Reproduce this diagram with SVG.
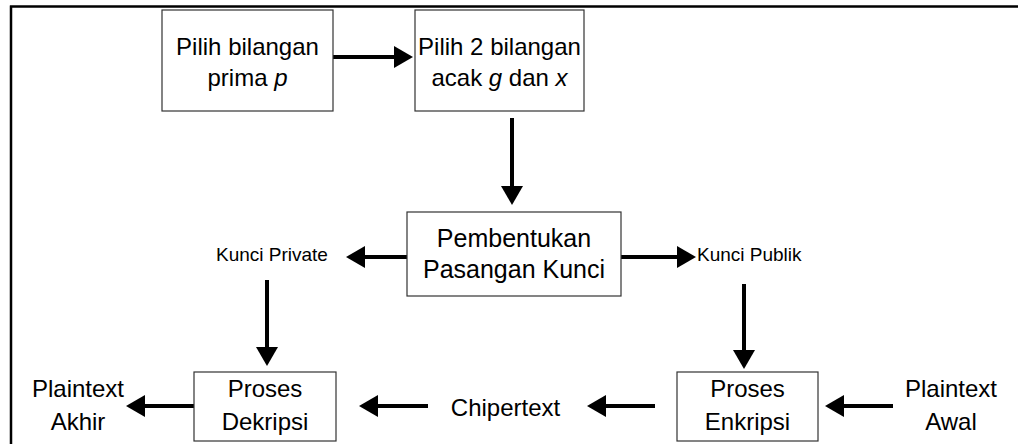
<svg xmlns="http://www.w3.org/2000/svg" width="1018" height="444" viewBox="0 0 1018 444">
<style>
.box{fill:#fff;stroke:#333;stroke-width:1.2}
.t{font-family:"Liberation Sans",Arial,sans-serif;font-size:24px;fill:#000;text-anchor:middle}
.s{font-family:"Liberation Sans",Arial,sans-serif;font-size:19px;fill:#000}
.c{stroke:#000;stroke-width:4;fill:none;marker-end:url(#ah)}
.frame{stroke:#000;stroke-width:2.5;fill:none}
</style>
<defs>
<marker id="ah" markerUnits="userSpaceOnUse" markerWidth="19" markerHeight="22" refX="0" refY="11" orient="auto" overflow="visible">
<path d="M0,0 L19,11 L0,22 Z" fill="#000"/>
</marker>
</defs>
<rect width="1018" height="444" fill="#fff"/>
<g id="frame">
<path class="frame" d="M10,6.5 H1018 M11,5.5 V444"/>
</g>
<g id="connectors">
<path class="c" d="M333,57 H394"/>
<path class="c" d="M512,118 V186"/>
<path class="c" d="M407,257 H365"/>
<path class="c" d="M621,257 H677"/>
<path class="c" d="M267,280 V347"/>
<path class="c" d="M744,284 V350"/>
<path class="c" d="M893,406 H844"/>
<path class="c" d="M655,406 H606"/>
<path class="c" d="M428,406 H378"/>
<path class="c" d="M194,406 H145"/>
</g>
<g id="n1">
<rect class="box" x="162" y="10" width="171" height="101"/>
<text class="t" x="247.5" y="55">Pilih bilangan</text>
<text class="t" x="247.5" y="86">prima <tspan font-style="italic">p</tspan></text>
</g>
<g id="n2">
<rect class="box" x="415" y="10" width="169" height="101"/>
<text class="t" x="499.5" y="55">Pilih 2 bilangan</text>
<text class="t" x="499.5" y="86">acak <tspan font-style="italic">g</tspan> dan <tspan font-style="italic">x</tspan></text>
</g>
<g id="n3">
<rect class="box" x="407" y="212" width="214" height="84"/>
<text class="t" x="514" y="247" style="font-size:25px">Pembentukan</text>
<text class="t" x="514" y="278" style="font-size:25px">Pasangan Kunci</text>
</g>
<g id="n4">
<text class="s" x="216" y="261">Kunci Private</text>
</g>
<g id="n5">
<text class="s" x="697" y="261">Kunci Publik</text>
</g>
<g id="n6">
<rect class="box" x="194" y="372" width="142" height="69"/>
<text class="t" x="265" y="397">Proses</text>
<text class="t" x="265" y="430">Dekripsi</text>
</g>
<g id="n7">
<rect class="box" x="677" y="372" width="141" height="69"/>
<text class="t" x="747.5" y="397">Proses</text>
<text class="t" x="747.5" y="430">Enkripsi</text>
</g>
<g id="n8">
<text class="t" x="505.5" y="416">Chipertext</text>
</g>
<g id="n9">
<text class="t" x="78" y="397">Plaintext</text>
<text class="t" x="78" y="430">Akhir</text>
</g>
<g id="n10">
<text class="t" x="951" y="397">Plaintext</text>
<text class="t" x="951" y="430">Awal</text>
</g>
</svg>
